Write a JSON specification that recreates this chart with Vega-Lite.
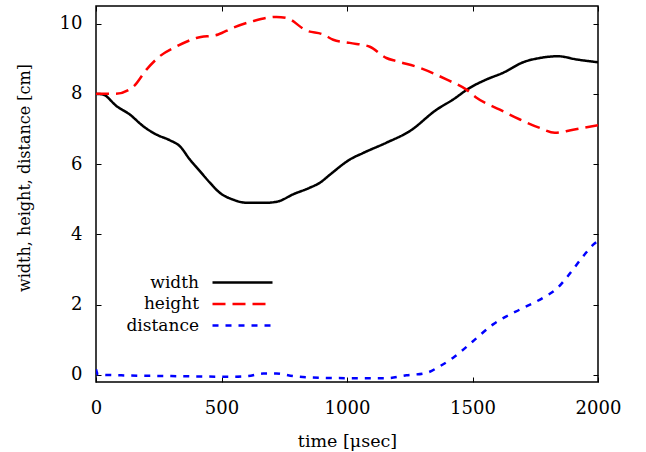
{
  "$schema": "https://vega.github.io/schema/vega-lite/v6.json",
  "width": 502,
  "height": 376,
  "autosize": {"type": "none"},
  "padding": {"left": 96, "top": 6, "right": 48, "bottom": 70},
  "background": "white",
  "config": {
    "font": "DejaVu Serif",
    "view": {"stroke": "black", "strokeWidth": 1.5}
  },
  "data": {
    "values": [
      {"t": 0, "series": "width", "v": 8.0},
      {"t": 28, "series": "width", "v": 7.98},
      {"t": 82, "series": "width", "v": 7.65},
      {"t": 135, "series": "width", "v": 7.41},
      {"t": 188, "series": "width", "v": 7.08},
      {"t": 241, "series": "width", "v": 6.84},
      {"t": 294, "series": "width", "v": 6.68},
      {"t": 334, "series": "width", "v": 6.51},
      {"t": 374, "series": "width", "v": 6.13},
      {"t": 414, "series": "width", "v": 5.8},
      {"t": 454, "series": "width", "v": 5.47},
      {"t": 494, "series": "width", "v": 5.18},
      {"t": 546, "series": "width", "v": 4.99},
      {"t": 600, "series": "width", "v": 4.9},
      {"t": 679, "series": "width", "v": 4.9},
      {"t": 726, "series": "width", "v": 4.94},
      {"t": 785, "series": "width", "v": 5.14},
      {"t": 852, "series": "width", "v": 5.33},
      {"t": 892, "series": "width", "v": 5.47},
      {"t": 932, "series": "width", "v": 5.7},
      {"t": 1011, "series": "width", "v": 6.13},
      {"t": 1065, "series": "width", "v": 6.32},
      {"t": 1157, "series": "width", "v": 6.61},
      {"t": 1250, "series": "width", "v": 6.94},
      {"t": 1357, "series": "width", "v": 7.55},
      {"t": 1423, "series": "width", "v": 7.84},
      {"t": 1489, "series": "width", "v": 8.17},
      {"t": 1556, "series": "width", "v": 8.41},
      {"t": 1622, "series": "width", "v": 8.6},
      {"t": 1702, "series": "width", "v": 8.9},
      {"t": 1768, "series": "width", "v": 9.02},
      {"t": 1841, "series": "width", "v": 9.07},
      {"t": 1914, "series": "width", "v": 8.98},
      {"t": 2000, "series": "width", "v": 8.9},
      {"t": 0, "series": "height", "v": 8.0},
      {"t": 75, "series": "height", "v": 8.0},
      {"t": 148, "series": "height", "v": 8.2},
      {"t": 201, "series": "height", "v": 8.69},
      {"t": 254, "series": "height", "v": 9.07},
      {"t": 321, "series": "height", "v": 9.35},
      {"t": 400, "series": "height", "v": 9.59},
      {"t": 487, "series": "height", "v": 9.69},
      {"t": 546, "series": "height", "v": 9.88},
      {"t": 626, "series": "height", "v": 10.07},
      {"t": 719, "series": "height", "v": 10.19},
      {"t": 759, "series": "height", "v": 10.16},
      {"t": 839, "series": "height", "v": 9.8},
      {"t": 905, "series": "height", "v": 9.69},
      {"t": 945, "series": "height", "v": 9.54},
      {"t": 1011, "series": "height", "v": 9.45},
      {"t": 1091, "series": "height", "v": 9.34},
      {"t": 1157, "series": "height", "v": 9.02},
      {"t": 1197, "series": "height", "v": 8.93},
      {"t": 1290, "series": "height", "v": 8.74},
      {"t": 1396, "series": "height", "v": 8.41},
      {"t": 1476, "series": "height", "v": 8.12},
      {"t": 1516, "series": "height", "v": 7.89},
      {"t": 1609, "series": "height", "v": 7.55},
      {"t": 1689, "series": "height", "v": 7.27},
      {"t": 1768, "series": "height", "v": 7.03},
      {"t": 1828, "series": "height", "v": 6.89},
      {"t": 1901, "series": "height", "v": 6.98},
      {"t": 2000, "series": "height", "v": 7.11},
      {"t": 0, "series": "distance", "v": 0.16},
      {"t": 8, "series": "distance", "v": 0.01},
      {"t": 100, "series": "distance", "v": -0.01},
      {"t": 281, "series": "distance", "v": -0.03},
      {"t": 546, "series": "distance", "v": -0.05},
      {"t": 606, "series": "distance", "v": -0.03},
      {"t": 666, "series": "distance", "v": 0.04},
      {"t": 719, "series": "distance", "v": 0.04},
      {"t": 785, "series": "distance", "v": -0.03},
      {"t": 892, "series": "distance", "v": -0.08},
      {"t": 1000, "series": "distance", "v": -0.09},
      {"t": 1157, "series": "distance", "v": -0.09},
      {"t": 1237, "series": "distance", "v": -0.01},
      {"t": 1317, "series": "distance", "v": 0.06},
      {"t": 1370, "series": "distance", "v": 0.25},
      {"t": 1423, "series": "distance", "v": 0.49},
      {"t": 1502, "series": "distance", "v": 0.96},
      {"t": 1582, "series": "distance", "v": 1.44},
      {"t": 1635, "series": "distance", "v": 1.67},
      {"t": 1688, "series": "distance", "v": 1.86},
      {"t": 1782, "series": "distance", "v": 2.2},
      {"t": 1835, "series": "distance", "v": 2.45},
      {"t": 1875, "series": "distance", "v": 2.77},
      {"t": 1941, "series": "distance", "v": 3.38},
      {"t": 1981, "series": "distance", "v": 3.71},
      {"t": 2000, "series": "distance", "v": 3.82}
    ]
  },
  "layer": [
    {
      "mark": {"type": "line", "strokeWidth": 2.5, "interpolate": "monotone", "clip": true},
      "encoding": {
        "x": {
          "field": "t", "type": "quantitative",
          "scale": {"domain": [0, 2000], "nice": false, "zero": false},
          "axis": {
            "orient": "bottom", "values": [0, 500, 1000, 1500, 2000], "format": "d",
            "grid": false, "domain": false, "tickSize": -5, "tickColor": "black", "tickWidth": 1,
            "labelPadding": 36, "labelBaseline": "alphabetic", "labelFontSize": 18, "labelColor": "black",
            "labelFont": "DejaVu Serif", "labelFlush": false,
            "title": "time [μsec]", "titleFont": "DejaVu Serif", "titleFontSize": 17.5, "titleFontWeight": "normal",
            "titleColor": "black", "titleX": 251, "titleY": 64, "titleBaseline": "alphabetic", "titleAlign": "center"
          }
        },
        "y": {
          "field": "v", "type": "quantitative",
          "scale": {"domain": [-0.2, 10.5], "nice": false, "zero": false},
          "axis": {
            "orient": "left", "values": [0, 2, 4, 6, 8, 10], "format": "d",
            "grid": false, "domain": false, "tickSize": -5, "tickColor": "black", "tickWidth": 1,
            "labelPadding": 19, "labelBaseline": "middle", "labelFontSize": 18, "labelColor": "black",
            "labelFont": "DejaVu Serif", "labelFlush": false,
            "title": "width, height, distance [cm]", "titleFont": "DejaVu Serif", "titleFontSize": 16,
            "titleFontWeight": "normal", "titleColor": "black", "titleAngle": -90,
            "titleX": -67, "titleY": 171.5, "titleBaseline": "alphabetic", "titleAlign": "center"
          }
        },
        "color": {
          "field": "series", "type": "nominal",
          "scale": {"domain": ["width", "height", "distance"], "range": ["#000000", "#ff0000", "#0000ff"]},
          "legend": {
            "orient": "none", "legendX": 115, "legendY": 265, "title": null, "padding": 0,
            "symbolType": "M-1,0H5", "symbolSize": 400, "symbolStrokeWidth": 2.5, "symbolFillColor": "transparent",
            "labelAlign": "right", "labelOffset": -35, "labelFontSize": 17, "labelFont": "DejaVu Serif",
            "labelColor": "black", "rowPadding": 1.5, "labelBaseline": "middle"
          }
        },
        "strokeDash": {
          "field": "series", "type": "nominal",
          "scale": {"domain": ["width", "height", "distance"], "range": [[1, 0], [13, 7], [6, 7]]},
          "legend": {
            "orient": "none", "legendX": 115, "legendY": 265, "title": null, "padding": 0,
            "symbolType": "M-1,0H5", "symbolSize": 400, "symbolStrokeWidth": 2.5, "symbolFillColor": "transparent",
            "labelAlign": "right", "labelOffset": -35, "labelFontSize": 17, "labelFont": "DejaVu Serif",
            "labelColor": "black", "rowPadding": 1.5, "labelBaseline": "middle"
          }
        }
      }
    },
    {
      "mark": {"type": "line", "strokeOpacity": 0, "clip": true},
      "encoding": {
        "x": {
          "field": "t", "type": "quantitative",
          "scale": {"domain": [0, 2000], "nice": false, "zero": false},
          "axis": {
            "orient": "top", "values": [0, 500, 1000, 1500, 2000], "labels": false, "title": null,
            "grid": false, "domain": false, "tickSize": -5, "tickColor": "black", "tickWidth": 1
          }
        },
        "y": {
          "field": "v", "type": "quantitative",
          "scale": {"domain": [-0.2, 10.5], "nice": false, "zero": false},
          "axis": {
            "orient": "right", "values": [0, 2, 4, 6, 8, 10], "labels": false, "title": null,
            "grid": false, "domain": false, "tickSize": -5, "tickColor": "black", "tickWidth": 1
          }
        },
        "detail": {"field": "series", "type": "nominal"}
      }
    }
  ],
  "resolve": {"axis": {"x": "independent", "y": "independent"}}
}
